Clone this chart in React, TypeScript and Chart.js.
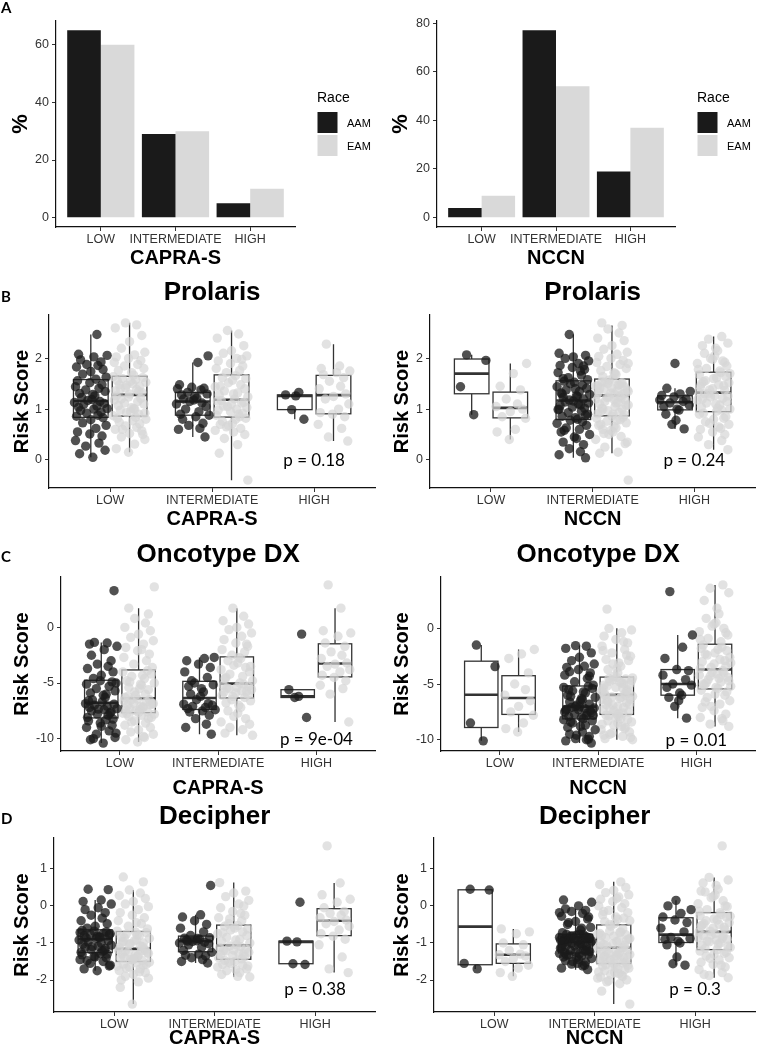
import React, { useEffect, useRef } from "react";
import { Chart, registerables } from "chart.js";

Chart.register(...registerables);

// ---------------- data ----------------
const CATEGORIES = ["LOW", "INTERMEDIATE", "HIGH"];
const RACES = ["AAM", "EAM"];

// Panel A: percentages
const CAPRA_AAM_PCT = [65, 29, 5];
const CAPRA_EAM_PCT = [60, 30, 10];
const NCCN_AAM_PCT = [4, 77, 19];
const NCCN_EAM_PCT = [9, 54, 37];
const CAPRA_PCT_TICKS = [0, 20, 40, 60];
const NCCN_PCT_TICKS = [0, 20, 40, 60, 80];

// Risk score tick values
const PROLARIS_TICKS = [0, 1, 2];
const ONCOTYPE_TICKS = [-10, -5, 0];
const DECIPHER_TICKS = [-2, -1, 0, 1];

// p-values
const PROLARIS_P = ["p = 0.18", "p = 0.24"];
const ONCOTYPE_P = ["p = 9e-04", "p = 0.01"];
const DECIPHER_P = ["p = 0.38", "p = 0.3"];
const PROLARIS_P_Y = -0.02;
const ONCOTYPE_P_Y = -10.1;
const DECIPHER_P_Y = -2.25;

// Risk scores per group: [LOW, INTERMEDIATE, HIGH]
const PROLARIS_CAPRA_AAM = [
  [0.05,0.12,0.19,0.27,0.33,0.38,0.47,0.51,0.55,0.62,0.68,0.73,0.79,0.83,0.86,0.88,0.92,0.94,0.97,1.0,1.01,1.04,1.06,1.09,1.11,1.13,1.15,1.17,1.19,1.23,1.26,1.29,1.31,1.35,1.38,1.41,1.44,1.48,1.52,1.56,1.59,1.63,1.69,1.74,1.78,1.83,1.86,1.88,1.93,1.97,2.03,2.06,2.08,2.47],
  [0.45,0.6,0.62,0.68,0.72,0.8,0.85,0.88,0.9,0.95,1.0,1.05,1.1,1.12,1.15,1.18,1.2,1.22,1.25,1.28,1.3,1.33,1.38,1.4,1.41,1.43,1.48,1.92,2.05],
  [0.8,0.99,1.26,1.28,1.33],
];
const PROLARIS_CAPRA_EAM = [
  [0.15,0.22,0.31,0.4,0.45,0.52,0.57,0.6,0.64,0.67,0.71,0.74,0.77,0.8,0.82,0.84,0.6,0.5,0.87,0.9,0.93,0.95,0.98,1.01,1.03,1.07,1.1,1.12,1.15,1.18,1.21,1.24,1.26,1.0,0.92,1.2,1.3,1.33,1.36,1.39,1.42,1.45,1.48,1.5,1.53,1.56,1.58,1.6,1.62,1.64,1.35,1.47,1.55,1.4,1.67,1.72,1.76,1.8,1.85,1.88,1.92,1.96,2.0,2.03,2.07,2.12,2.2,2.33,2.45,2.6,2.66,2.7],
  [-0.4,0.13,0.3,0.42,0.5,0.58,0.62,0.68,0.72,0.76,0.8,0.55,0.7,0.82,0.65,0.85,0.88,0.92,0.95,0.98,1.0,1.03,1.06,1.1,1.13,1.16,0.9,1.05,1.12,1.17,1.2,1.24,1.28,1.32,1.36,1.4,1.44,1.48,1.52,1.57,1.62,1.66,1.3,1.45,1.6,1.72,1.76,1.8,1.85,1.9,1.95,2.0,2.05,2.1,2.15,2.25,2.4,2.48,2.55,1.98],
  [0.37,0.45,0.62,0.7,0.85,0.9,0.93,1.0,1.1,1.2,1.25,1.3,1.4,1.45,1.55,1.62,1.68,1.72,1.75,1.8,1.85,2.28],
];
const PROLARIS_NCCN_AAM = [
  [0.89,1.44,1.96,2.07],
  [0.04,0.1,0.16,0.22,0.3,0.35,0.42,0.5,0.55,0.6,0.63,0.68,0.72,0.75,0.78,0.45,0.58,0.8,0.83,0.86,0.9,0.93,0.96,0.99,1.02,1.04,1.07,1.1,1.12,1.14,1.16,0.88,1.0,1.08,1.18,1.2,1.23,1.26,1.29,1.32,1.35,1.38,1.41,1.44,1.47,1.5,1.53,1.55,1.25,1.4,1.3,1.58,1.62,1.67,1.72,1.78,1.82,1.86,1.9,1.95,2.0,2.03,2.06,2.1,1.75,2.47,1.85,1.6],
  [0.61,0.7,0.78,0.9,0.98,1.0,1.05,1.08,1.12,1.15,1.18,1.2,1.24,1.27,1.3,1.35,1.41,1.9],
];
const PROLARIS_NCCN_EAM = [
  [0.4,0.55,0.6,0.82,0.85,0.95,1.0,1.05,1.1,1.2,1.38,1.45,1.7,1.9],
  [-0.4,0.13,0.15,0.25,0.32,0.4,0.46,0.5,0.55,0.6,0.63,0.66,0.7,0.73,0.76,0.79,0.82,0.84,0.58,0.68,0.78,0.35,0.52,0.86,0.89,0.91,0.94,0.97,1.0,1.02,1.05,1.08,1.1,1.13,1.15,1.18,1.2,1.22,1.24,0.9,1.0,1.12,1.19,0.95,1.07,1.23,1.26,1.28,1.3,1.32,1.34,1.36,1.38,1.4,1.42,1.44,1.46,1.48,1.5,1.52,1.54,1.29,1.35,1.41,1.47,1.53,1.31,1.45,1.5,1.57,1.6,1.64,1.68,1.72,1.76,1.8,1.84,1.88,1.92,1.96,2.0,2.04,2.08,2.12,2.18,2.25,2.35,2.4,2.5,2.58,2.65,2.7,1.7,1.9],
  [0.2,0.3,0.38,0.45,0.5,0.55,0.6,0.65,0.7,0.75,0.8,0.85,0.9,0.62,0.72,0.82,0.92,0.96,1.0,1.04,1.08,1.12,1.15,1.18,1.21,1.24,1.27,1.3,1.02,1.1,1.2,1.26,1.31,0.98,1.34,1.37,1.4,1.44,1.48,1.52,1.56,1.6,1.64,1.68,1.72,1.38,1.46,1.54,1.62,1.7,1.5,1.75,1.8,1.85,1.9,1.95,2.0,2.05,2.1,2.15,2.2,2.25,2.3,2.38,2.43,1.78,1.92,1.98],
];

const ONCOTYPE_CAPRA_AAM = [
  [-10.4,-10.1,-9.9,-9.6,-9.3,-9.0,-8.8,-8.6,-8.4,-8.3,-9.5,-10.0,-8.9,-8.25,-8.1,-7.9,-7.8,-7.6,-7.5,-7.4,-7.3,-7.2,-7.1,-7.0,-6.9,-6.85,-7.7,-7.35,-6.7,-6.5,-6.3,-6.1,-5.9,-5.7,-5.5,-5.3,-5.1,-4.9,-4.8,-6.6,-6.0,-5.0,-4.6,-4.3,-4.0,-3.7,-3.5,-3.3,-3.0,-2.5,-2.0,-1.7,-1.5,-1.4,-1.35,3.3],
  [-9.6,-9.0,-8.7,-8.2,-7.9,-7.6,-7.5,-7.4,-7.3,-7.2,-7.1,-7.0,-6.9,-6.85,-6.5,-6.2,-6.0,-5.8,-5.5,-5.3,-5.15,-5.0,-4.5,-4.0,-3.6,-3.3,-3.0,-2.8,-2.7,-4.8],
  [-8.1,-6.3,-6.2,-5.6,-0.6],
];
const ONCOTYPE_CAPRA_EAM = [
  [-10.3,-10.1,-9.8,-9.6,-9.4,-9.2,-9.0,-8.8,-8.6,-8.4,-8.2,-8.0,-7.9,-7.8,-7.75,-9.9,-8.5,-8.1,-7.72,-7.6,-7.5,-7.4,-7.3,-7.2,-7.1,-7.0,-6.9,-6.8,-6.7,-6.6,-6.5,-6.45,-7.45,-7.15,-6.85,-6.55,-7.65,-6.95,-6.3,-6.0,-5.8,-5.6,-5.4,-5.2,-5.0,-4.8,-4.6,-4.4,-4.2,-4.0,-3.9,-6.1,-5.5,-4.9,-4.3,-5.1,-6.2,-3.6,-3.3,-3.0,-2.7,-2.4,-2.1,-1.8,-1.5,-1.2,-0.9,-0.6,-0.3,0.0,0.4,0.8,1.2,1.73,-2.0,3.64],
  [-9.7,-9.5,-9.2,-9.0,-8.7,-8.5,-8.2,-8.0,-7.7,-7.5,-7.2,-7.0,-6.8,-6.6,-6.5,-6.3,-6.1,-6.0,-5.9,-5.8,-5.7,-5.6,-5.5,-5.4,-5.3,-5.2,-5.1,-6.2,-5.75,-5.45,-5.0,-4.8,-4.6,-4.4,-4.2,-4.0,-3.8,-3.6,-3.4,-3.2,-3.0,-2.8,-2.7,-4.5,-3.5,-2.5,-2.2,-2.0,-1.7,-1.4,-1.1,-0.8,-0.5,-0.2,0.0,0.3,0.6,1.0,1.73,-1.5],
  [-8.5,-6.0,-5.5,-5.2,-4.8,-4.5,-4.3,-4.0,-3.8,-3.5,-3.3,-3.2,-2.8,-2.5,-2.2,-1.7,-1.4,-0.8,-0.5,-0.3,1.73,3.82],
];
const ONCOTYPE_NCCN_AAM = [
  [-10.1,-8.5,-3.43,-1.5],
  [-10.3,-10.1,-10.0,-9.9,-9.7,-9.5,-9.3,-9.1,-8.9,-8.7,-8.5,-8.3,-8.2,-9.95,-9.6,-8.8,-8.4,-8.1,-8.0,-7.9,-7.8,-7.7,-7.6,-7.5,-7.4,-7.3,-7.25,-7.2,-7.15,-7.1,-7.05,-7.55,-7.35,-7.85,-7.0,-6.8,-6.6,-6.4,-6.2,-6.0,-5.8,-5.6,-5.4,-5.3,-5.2,-6.9,-6.5,-6.1,-5.7,-6.3,-5.5,-5.1,-4.8,-4.5,-4.2,-4.0,-3.7,-3.5,-3.4,-3.2,-2.9,-2.6,-2.2,-1.8,-1.6,-1.55,-4.3,-3.9],
  [-8.06,-7.0,-6.5,-6.2,-6.0,-5.8,-5.3,-5.1,-5.0,-4.6,-4.2,-3.8,-3.7,-2.7,-1.7,-0.6,3.3],
];
const ONCOTYPE_NCCN_EAM = [
  [-9.3,-9.0,-8.5,-7.8,-7.5,-7.0,-6.5,-6.0,-5.5,-5.0,-4.0,-2.7,-2.3,-1.9],
  [-10.0,-9.9,-9.7,-9.5,-9.3,-9.1,-8.9,-8.7,-8.5,-8.3,-8.1,-7.9,-7.8,-9.8,-9.4,-9.0,-8.6,-8.2,-8.0,-9.6,-8.8,-8.4,-7.85,-7.7,-7.5,-7.3,-7.1,-6.9,-6.7,-6.5,-6.3,-6.1,-6.0,-7.6,-7.2,-6.8,-6.4,-6.05,-7.4,-7.0,-6.6,-6.2,-7.65,-6.85,-6.35,-6.15,-5.9,-5.7,-5.5,-5.3,-5.1,-4.9,-4.7,-4.5,-4.4,-5.8,-5.4,-5.0,-4.6,-5.6,-5.2,-4.8,-4.45,-5.95,-5.35,-4.75,-5.05,-5.65,-4.55,-4.3,-4.0,-3.7,-3.4,-3.1,-2.8,-2.5,-2.2,-1.9,-1.6,-1.3,-1.0,-0.7,-0.4,-0.15,0.0,-3.6,-2.9,-2.0,-1.2,-3.2,-2.4,1.73],
  [-8.8,-8.6,-8.3,-8.0,-7.7,-7.4,-7.1,-6.8,-6.5,-6.2,-5.9,-5.7,-5.55,-8.1,-7.0,-6.0,-6.6,-5.4,-5.2,-5.0,-4.8,-4.6,-4.4,-4.2,-4.0,-3.95,-5.3,-4.9,-4.5,-4.1,-5.1,-4.7,-4.3,-3.8,-3.6,-3.4,-3.2,-3.0,-2.8,-2.6,-2.4,-2.2,-2.0,-1.8,-1.7,-3.5,-2.9,-2.3,-1.9,-3.1,-1.5,-1.2,-0.9,-0.6,-0.3,0.0,0.2,0.5,0.9,1.3,1.8,2.5,3.2,3.6,3.9,-1.0,-0.4,0.4],
];

const DECIPHER_CAPRA_AAM = [
  [-1.75,-1.7,-1.62,-1.55,-1.5,-1.45,-1.4,-1.36,-1.32,-1.29,-1.6,-1.48,-1.38,-1.3,-1.25,-1.22,-1.18,-1.15,-1.12,-1.09,-1.06,-1.03,-1.0,-0.97,-0.94,-0.92,-1.2,-1.1,-0.88,-0.86,-0.84,-0.82,-0.8,-0.78,-0.76,-0.74,-0.72,-0.7,-0.68,-0.66,-0.85,-0.75,-0.6,-0.55,-0.48,-0.4,-0.33,-0.25,-0.18,-0.1,-0.05,0.05,0.12,0.16,0.45,0.44],
  [-1.54,-1.5,-1.45,-1.4,-1.35,-1.33,-1.3,-1.25,-1.2,-1.12,-1.05,-1.02,-1.0,-0.98,-0.96,-0.94,-0.92,-0.9,-0.88,-0.87,-0.86,-0.8,-0.7,-0.6,-0.5,-0.4,-0.3,-0.24,0.55,-0.95],
  [-1.58,-1.56,-0.97,-0.95,0.1],
];
const DECIPHER_CAPRA_EAM = [
  [-2.65,-2.2,-2.05,-1.95,-1.9,-1.85,-1.8,-1.75,-1.7,-1.65,-1.6,-1.57,-1.54,-1.52,-2.0,-1.78,-1.68,-1.58,-1.62,-1.48,-1.45,-1.42,-1.39,-1.36,-1.33,-1.3,-1.27,-1.24,-1.21,-1.18,-1.16,-1.46,-1.4,-1.34,-1.28,-1.22,-1.44,-1.2,-1.12,-1.08,-1.04,-1.0,-0.96,-0.92,-0.88,-0.84,-0.8,-0.76,-0.72,-0.68,-1.1,-1.02,-0.94,-0.86,-0.78,-0.7,-0.98,-0.62,-0.55,-0.48,-0.4,-0.32,-0.25,-0.18,-0.1,-0.02,0.05,0.12,0.2,0.28,0.35,0.43,0.65,0.78,-0.45],
  [-1.92,-1.85,-1.8,-1.75,-1.7,-1.65,-1.6,-1.55,-1.5,-1.47,-1.9,-1.72,-1.58,-1.62,-1.52,-1.43,-1.4,-1.37,-1.34,-1.31,-1.28,-1.25,-1.22,-1.19,-1.16,-1.13,-1.1,-1.08,-1.3,-1.2,-1.05,-1.0,-0.95,-0.9,-0.85,-0.8,-0.75,-0.7,-0.65,-0.6,-0.55,-0.53,-0.92,-0.72,-0.62,-0.48,-0.4,-0.32,-0.25,-0.15,-0.05,0.05,0.15,0.25,0.35,0.4,0.63,-0.2,-0.35,0.0],
  [-1.8,-1.7,-1.38,-1.05,-0.9,-0.82,-0.75,-0.65,-0.55,-0.48,-0.42,-0.38,-0.32,-0.25,-0.2,-0.15,-0.05,0.1,0.18,0.3,0.62,1.62],
];
const DECIPHER_NCCN_AAM = [
  [-1.7,-1.55,0.43,0.45],
  [-1.72,-1.68,-1.62,-1.57,-1.52,-1.48,-1.45,-1.42,-1.38,-1.35,-1.32,-1.3,-1.28,-1.6,-1.5,-1.4,-1.33,-1.29,-1.55,-1.26,-1.23,-1.2,-1.17,-1.14,-1.11,-1.08,-1.05,-1.02,-0.99,-0.97,-1.25,-1.19,-1.13,-1.07,-1.01,-1.22,-1.1,-1.04,-0.95,-0.93,-0.91,-0.89,-0.87,-0.85,-0.83,-0.81,-0.79,-0.77,-0.76,-0.94,-0.9,-0.86,-0.82,-0.78,-0.92,-0.84,-0.88,-0.72,-0.65,-0.58,-0.5,-0.42,-0.35,-0.28,-0.2,-0.15,-0.12,-0.08,0.0,0.1,0.16,-0.6,-0.45,-0.3,-0.18],
  [-1.6,-1.56,-1.38,-1.05,-1.0,-0.95,-0.9,-0.88,-0.85,-0.7,-0.6,-0.45,-0.38,-0.3,-0.2,-0.1,0.0,0.15],
];
const DECIPHER_NCCN_EAM = [
  [-1.9,-1.8,-1.68,-1.6,-1.5,-1.42,-1.35,-1.32,-1.3,-1.2,-1.05,-1.0,-0.75,-0.7,-0.62],
  [-2.65,-2.3,-2.1,-2.05,-2.0,-1.95,-1.9,-1.85,-1.8,-1.75,-1.7,-1.66,-1.62,-1.6,-2.02,-1.88,-1.78,-1.72,-1.64,-1.92,-1.83,-1.68,-1.59,-1.56,-1.52,-1.49,-1.46,-1.43,-1.4,-1.37,-1.34,-1.31,-1.28,-1.25,-1.22,-1.19,-1.17,-1.54,-1.47,-1.41,-1.35,-1.29,-1.23,-1.5,-1.38,-1.26,-1.14,-1.1,-1.06,-1.02,-0.98,-0.94,-0.9,-0.86,-0.82,-0.78,-0.74,-0.7,-0.68,-1.12,-1.04,-0.96,-0.88,-0.8,-0.72,-1.08,-0.92,-0.76,-0.62,-0.55,-0.48,-0.42,-0.36,-0.3,-0.24,-0.18,-0.12,-0.05,0.0,0.06,0.12,0.18,0.24,0.3,0.36,0.42,0.5,0.58,0.65,-0.5,-0.33,-0.15,0.2,-0.4],
  [-1.94,-1.88,-1.8,-1.72,-1.65,-1.58,-1.52,-1.46,-1.4,-1.35,-1.3,-1.25,-1.22,-1.6,-1.42,-1.28,-1.85,-1.18,-1.12,-1.06,-1.0,-0.95,-0.9,-0.86,-0.82,-0.78,-0.74,-1.15,-1.03,-0.92,-0.8,-1.09,-0.97,-0.88,-0.7,-0.65,-0.6,-0.55,-0.5,-0.45,-0.4,-0.35,-0.3,-0.26,-0.23,-0.68,-0.58,-0.48,-0.38,-0.28,-0.52,-0.18,-0.1,-0.02,0.06,0.14,0.22,0.3,0.38,0.45,0.55,0.62,0.7,0.77,1.62,-0.14,0.0,0.25,0.4],
];

// horizontal jitter offsets (category units), cycled through the points
const JITTER = [0.02,-0.11,0.14,-0.05,0.08,-0.15,0.11,-0.01,-0.13,0.05,0.15,-0.08,0.0,0.12,-0.14,0.07,-0.04,0.1,-0.1,0.03,0.16,-0.12,0.06,-0.07,0.13,-0.16,0.09,-0.03,0.01,-0.09,0.04];

// ---------------- styles ----------------
const SANS = "'Liberation Sans', Arial, Helvetica, sans-serif";
const ALT = "Lato, 'Open Sans', sans-serif";
const BAR_FILL = ["#1a1a1a", "#d9d9d9"];
const POINT_FILL = ["rgba(26,26,26,0.76)", "rgba(214,214,214,0.7)"];
const TICK_COLOR = "#333333";
const DODGE = 0.19;
const BOX_HALF = 0.17;

function quantile(s: number[], p: number) {
  const pos = (s.length - 1) * p;
  const lo = Math.floor(pos);
  const hi = Math.ceil(pos);
  return s[lo] + (s[hi] - s[lo]) * (pos - lo);
}
function boxStats(values: number[]) {
  const s = [...values].sort((a, b) => a - b);
  const q1 = quantile(s, 0.25), med = quantile(s, 0.5), q3 = quantile(s, 0.75);
  const iqr = q3 - q1;
  const lo = s.find((v) => v >= q1 - 1.5 * iqr) as number;
  const hi = [...s].reverse().find((v) => v <= q3 + 1.5 * iqr) as number;
  return { lo, q1, med, q3, hi };
}

type Area = [number, number, number, number];
interface PanelBase { left: number; top: number; width: number; height: number; area: Area; xTitle: string; letter?: [string, number, number]; }
interface BarPanel extends PanelBase { kind: "bar"; aam: number[]; eam: number[]; ticks: number[]; }
interface BoxPanel extends PanelBase { kind: "box"; title: string; titleCenter: number; aam: number[][]; eam: number[][]; ticks: number[]; p: string; pY: number; }
type Panel = BarPanel | BoxPanel;

const PANELS: Panel[] = [
  { kind: "bar", left: 0, top: 0, width: 380, height: 270, area: [56, 21, 295, 227], xTitle: "CAPRA-S", aam: CAPRA_AAM_PCT, eam: CAPRA_EAM_PCT, ticks: CAPRA_PCT_TICKS, letter: ["A", 0, 8.5] },
  { kind: "bar", left: 380, top: 0, width: 380, height: 270, area: [437, 21, 675, 227], xTitle: "NCCN", aam: NCCN_AAM_PCT, eam: NCCN_EAM_PCT, ticks: NCCN_PCT_TICKS },
  { kind: "box", left: 0, top: 270, width: 380, height: 261, area: [49, 315, 380, 488], xTitle: "CAPRA-S", title: "Prolaris", titleCenter: 293, aam: PROLARIS_CAPRA_AAM, eam: PROLARIS_CAPRA_EAM, ticks: PROLARIS_TICKS, p: PROLARIS_P[0], pY: PROLARIS_P_Y, letter: ["B", 0, 297] },
  { kind: "box", left: 380, top: 270, width: 380, height: 261, area: [430, 315, 760, 488], xTitle: "NCCN", title: "Prolaris", titleCenter: 293, aam: PROLARIS_NCCN_AAM, eam: PROLARIS_NCCN_EAM, ticks: PROLARIS_TICKS, p: PROLARIS_P[1], pY: PROLARIS_P_Y },
  { kind: "box", left: 0, top: 530, width: 380, height: 270, area: [61, 577, 380, 751], xTitle: "CAPRA-S", title: "Oncotype DX", titleCenter: 554.5, aam: ONCOTYPE_CAPRA_AAM, eam: ONCOTYPE_CAPRA_EAM, ticks: ONCOTYPE_TICKS, p: ONCOTYPE_P[0], pY: ONCOTYPE_P_Y, letter: ["C", 0, 557] },
  { kind: "box", left: 380, top: 530, width: 380, height: 270, area: [441, 577, 760, 751], xTitle: "NCCN", title: "Oncotype DX", titleCenter: 554.5, aam: ONCOTYPE_NCCN_AAM, eam: ONCOTYPE_NCCN_EAM, ticks: ONCOTYPE_TICKS, p: ONCOTYPE_P[1], pY: ONCOTYPE_P_Y },
  { kind: "box", left: 0, top: 795, width: 380, height: 255, area: [54, 838, 380, 1012], xTitle: "CAPRA-S", title: "Decipher", titleCenter: 816.7, aam: DECIPHER_CAPRA_AAM, eam: DECIPHER_CAPRA_EAM, ticks: DECIPHER_TICKS, p: DECIPHER_P[0], pY: DECIPHER_P_Y, letter: ["D", 0, 819] },
  { kind: "box", left: 380, top: 795, width: 380, height: 255, area: [434, 838, 760, 1012], xTitle: "NCCN", title: "Decipher", titleCenter: 816.7, aam: DECIPHER_NCCN_AAM, eam: DECIPHER_NCCN_EAM, ticks: DECIPHER_TICKS, p: DECIPHER_P[1], pY: DECIPHER_P_Y },
];

function commonX(p: Panel) {
  return {
    type: "linear",
    min: 0.4,
    max: 3.6,
    offset: false,
    afterBuildTicks: (s: any) => { s.ticks = CATEGORIES.map((_, i) => ({ value: i + 1 })); },
    afterFit: (s: any) => { s.height = p.top + p.height - p.area[3]; },
    ticks: { callback: (v: any) => CATEGORIES[Math.round(v) - 1] ?? "", autoSkip: false, maxRotation: 0, minRotation: 0, padding: 1, color: TICK_COLOR, font: { family: SANS, size: 12.5 } },
    grid: { drawOnChartArea: false, drawTicks: true, tickLength: 4, color: TICK_COLOR, offset: false },
    border: { display: true, color: "#111", width: 1.2 },
    title: { display: true, text: p.xTitle, color: "#000", font: { family: SANS, size: 20, weight: "bold" }, padding: { top: 0, bottom: 0 } },
  };
}
function commonY(p: Panel, min: number, max: number, titleText: string, titleSize: number, titleCenterX: number) {
  return {
    type: "linear",
    min,
    max,
    afterBuildTicks: (s: any) => { s.ticks = p.ticks.map((v) => ({ value: v })); },
    afterFit: (s: any) => { s.width = p.area[0] - p.left; },
    ticks: { callback: (v: any) => String(v), padding: 3, color: TICK_COLOR, font: { family: SANS, size: 12.5 } },
    grid: { drawOnChartArea: false, drawTicks: true, tickLength: 4, color: TICK_COLOR },
    border: { display: true, color: "#111", width: 1.2 },
    title: { display: true, text: titleText, color: "#000", font: { family: SANS, size: titleSize, weight: "bold" }, padding: { top: titleCenterX - (titleSize * 1.2) / 2, bottom: 0 } },
  };
}

const letterPlugin = (p: Panel) => ({
  id: "panelLetter",
  afterDraw(chart: any) {
    if (!p.letter) return;
    const ctx = chart.ctx;
    ctx.save();
    ctx.font = `bold 15px ${ALT}`;
    ctx.fillStyle = "#000";
    ctx.textAlign = "left";
    ctx.textBaseline = "middle";
    ctx.fillText(p.letter[0], p.letter[1] - p.left + 1, p.letter[2] - p.top);
    ctx.restore();
  },
});

function barConfig(p: BarPanel) {
  const maxV = Math.max(...p.aam, ...p.eam);
  const legendPlugin = {
    id: "raceLegend",
    afterDraw(chart: any) {
      const ctx = chart.ctx;
      ctx.save();
      ctx.fillStyle = "#000";
      ctx.textBaseline = "middle";
      ctx.textAlign = "left";
      ctx.font = `14px ${SANS}`;
      ctx.fillText("Race", 317, 98);
      RACES.forEach((race, i) => {
        const y = 112 + i * 23;
        ctx.fillStyle = BAR_FILL[i];
        ctx.fillRect(317.5, y, 20, 21);
        ctx.fillStyle = "#000";
        ctx.font = `11px ${SANS}`;
        ctx.fillText(race, 347, y + 11.5);
      });
      ctx.restore();
    },
  };
  return {
    type: "bar",
    data: {
      datasets: RACES.map((race, r) => ({
        label: race,
        data: CATEGORIES.map((_, i) => ({ x: i + 1, y: (r === 0 ? p.aam : p.eam)[i] })),
        backgroundColor: BAR_FILL[r],
        borderWidth: 0,
        categoryPercentage: 0.9,
        barPercentage: 1,
      })),
    },
    options: {
      responsive: false,
      animation: false,
      events: [],
      layout: { padding: { left: 0, top: p.area[1] - p.top, right: p.left + p.width - p.area[2], bottom: 0 } },
      plugins: { legend: { display: false }, title: { display: false }, tooltip: { enabled: false } },
      scales: {
        x: commonX(p),
        y: commonY(p, -0.05 * maxV, 1.05 * maxV, "%", 22, 20.8),
      },
    },
    plugins: [legendPlugin, letterPlugin(p)],
  };
}

function boxConfig(p: BoxPanel) {
  const all = [...p.aam.flat(), ...p.eam.flat()];
  const lo = Math.min(...all), hi = Math.max(...all);
  const pad = 0.05 * (hi - lo);
  const groups = [p.aam, p.eam];
  const lh = 26 * 1.2;
  const pt = p.titleCenter - p.top - lh / 2;
  const pb = p.area[1] - p.top - pt - lh;
  const boxPlugin = {
    id: "boxes",
    beforeDatasetsDraw(chart: any) {
      const ctx = chart.ctx;
      const xs = chart.scales.x, ys = chart.scales.y;
      ctx.save();
      groups.forEach((g, r) => {
        g.forEach((vals, c) => {
          const st = boxStats(vals);
          const cx = c + 1 + (r === 0 ? -DODGE : DODGE);
          const x0 = xs.getPixelForValue(cx - BOX_HALF);
          const x1 = xs.getPixelForValue(cx + BOX_HALF);
          const xm = xs.getPixelForValue(cx);
          const yq1 = ys.getPixelForValue(st.q1), yq3 = ys.getPixelForValue(st.q3);
          ctx.strokeStyle = "#333";
          ctx.lineWidth = 1.3;
          ctx.beginPath();
          ctx.moveTo(xm, ys.getPixelForValue(st.hi));
          ctx.lineTo(xm, yq3);
          ctx.moveTo(xm, yq1);
          ctx.lineTo(xm, ys.getPixelForValue(st.lo));
          ctx.stroke();
          ctx.fillStyle = "#fff";
          ctx.fillRect(x0, yq3, x1 - x0, yq1 - yq3);
          ctx.strokeRect(x0, yq3, x1 - x0, yq1 - yq3);
          ctx.lineWidth = 2.6;
          ctx.beginPath();
          const ym = ys.getPixelForValue(st.med);
          ctx.moveTo(x0, ym);
          ctx.lineTo(x1, ym);
          ctx.stroke();
        });
      });
      ctx.restore();
    },
    afterDraw(chart: any) {
      const ctx = chart.ctx;
      ctx.save();
      ctx.font = `17px ${ALT}`;
      ctx.fillStyle = "#000";
      ctx.textAlign = "center";
      ctx.textBaseline = "middle";
      ctx.fillText(p.p, chart.scales.x.getPixelForValue(3), chart.scales.y.getPixelForValue(p.pY));
      ctx.restore();
    },
  };
  return {
    type: "scatter",
    data: {
      datasets: RACES.map((race, r) => ({
        label: race,
        data: groups[r].flatMap((vals, c) =>
          vals.map((y, k) => ({
            x: c + 1 + (r === 0 ? -DODGE : DODGE) + JITTER[(k + r * 7 + c * 13) % JITTER.length],
            y,
          }))
        ),
        pointRadius: 4.7,
        pointHoverRadius: 4.7,
        pointBackgroundColor: POINT_FILL[r],
        pointBorderWidth: 0,
        pointBorderColor: "rgba(0,0,0,0)",
      })),
    },
    options: {
      responsive: false,
      animation: false,
      events: [],
      layout: { padding: { left: 0, top: 0, right: p.left + p.width - p.area[2], bottom: 0 } },
      plugins: {
        legend: { display: false },
        tooltip: { enabled: false },
        title: { display: true, text: p.title, fullSize: false, align: "center", color: "#000", font: { family: SANS, size: 26, weight: "bold" }, padding: { top: pt, bottom: pb } },
      },
      scales: {
        x: commonX(p),
        y: commonY(p, lo - pad, hi + pad, "Risk Score", 20, 22.5),
      },
    },
    plugins: [boxPlugin, letterPlugin(p)],
  };
}

export default function App() {
  const refs = useRef<(HTMLCanvasElement | null)[]>([]);
  useEffect(() => {
    const charts = PANELS.map((p, i) => {
      const el = refs.current[i] as HTMLCanvasElement;
      const cfg: any = p.kind === "bar" ? barConfig(p) : boxConfig(p);
      return new Chart(el, cfg);
    });
    return () => charts.forEach((c) => c.destroy());
  }, []);
  return (
    <div style={{ position: "absolute", left: 0, top: 0, width: 760, height: 1050, background: "#fff", overflow: "hidden" }}>
      {PANELS.map((p, i) => (
        <canvas
          key={i}
          ref={(el) => { refs.current[i] = el; }}
          width={p.width}
          height={p.height}
          style={{ position: "absolute", left: p.left, top: p.top, width: p.width, height: p.height }}
        />
      ))}
    </div>
  );
}
